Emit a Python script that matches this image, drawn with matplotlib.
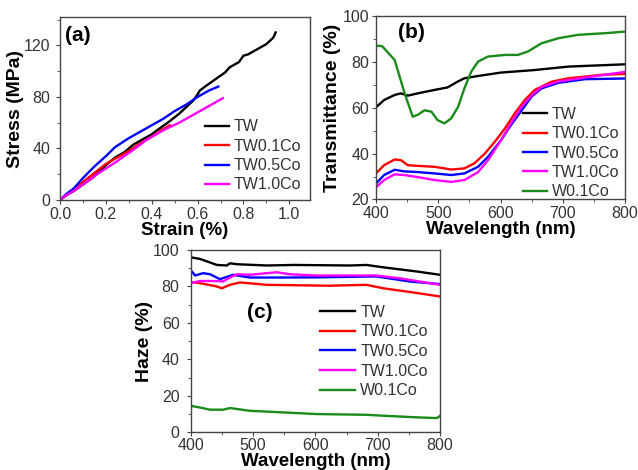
import matplotlib
matplotlib.use("Agg")
import matplotlib.pyplot as plt
from matplotlib.ticker import MultipleLocator, FormatStrFormatter

plt.rcParams['font.family'] = ['Liberation Sans', 'DejaVu Sans']

# ---------- Panel (a): stress-strain ----------
tw_strain = [0.0, 0.03, 0.06, 0.1, 0.14, 0.17, 0.2, 0.24, 0.28, 0.3, 0.32, 0.36, 0.4, 0.43, 0.47, 0.52, 0.55, 0.58, 0.6, 0.61, 0.64, 0.68, 0.72, 0.74, 0.78, 0.8, 0.82, 0.84, 0.87, 0.9, 0.93, 0.94]
tw_stress = [0.0, 4, 7, 12, 17, 22, 27, 33, 37, 40, 43, 47, 51, 55, 60, 67, 72, 77, 82, 85, 89, 94, 99, 103, 107, 112, 113, 115, 118, 121, 126, 130]
tw01_strain = [0.0, 0.03, 0.06, 0.1, 0.15, 0.2, 0.25, 0.3, 0.35, 0.4, 0.44, 0.48]
tw01_stress = [0.0, 4, 8, 14, 21, 28, 33, 38, 44, 49, 54, 58]
tw05_strain = [0.0, 0.03, 0.06, 0.1, 0.15, 0.2, 0.24, 0.3, 0.35, 0.4, 0.45, 0.5, 0.55, 0.6, 0.65, 0.69]
tw05_stress = [0.0, 5, 9, 17, 26, 34, 41, 48, 53, 58, 63, 69, 74, 80, 85, 88]
tw10_strain = [0.0, 0.03, 0.06, 0.1, 0.17, 0.24, 0.32, 0.38, 0.46, 0.52, 0.6, 0.66, 0.71]
tw10_stress = [0.0, 4, 7, 12, 21, 29, 39, 47, 55, 60, 68, 74, 79]

# ---------- Panel (b): transmittance ----------
wl_w01 = [400, 410, 430, 446, 459, 467, 478, 489, 499, 510, 521, 532, 542, 553, 564, 580, 607, 628, 644, 666, 693, 725, 768, 800]
t_w01 = [87.3, 87.0, 81.0, 66.4, 56.2, 57.0, 59.0, 58.4, 54.7, 53.3, 55.5, 60.6, 68.6, 75.9, 80.3, 82.5, 83.2, 83.2, 84.7, 88.3, 90.5, 92.0, 92.7, 93.4]
wl_tw = [400, 413, 430, 440, 451, 467, 494, 515, 531, 542, 564, 601, 655, 709, 800]
t_tw = [60.3, 63.5, 65.7, 66.4, 65.4, 66.4, 67.9, 69.0, 71.5, 73.0, 74.0, 75.5, 76.6, 78.1, 79.1]
wl_tw01 = [400, 413, 430, 440, 451, 467, 494, 521, 542, 558, 575, 591, 607, 623, 639, 655, 682, 709, 763, 800]
t_tw01 = [31.4, 35.0, 37.5, 37.2, 35.0, 34.7, 34.3, 33.1, 33.6, 35.8, 40.1, 45.3, 51.0, 57.7, 63.5, 67.9, 71.5, 73.0, 74.5, 74.9]
wl_tw05 = [400, 413, 430, 445, 467, 494, 521, 542, 564, 580, 601, 617, 634, 650, 666, 693, 736, 800]
t_tw05 = [27.0, 30.7, 33.0, 32.3, 32.0, 31.4, 30.7, 31.4, 34.3, 38.7, 46.0, 52.6, 59.0, 65.0, 68.6, 71.0, 72.6, 72.9]
wl_tw10 = [400, 413, 430, 445, 467, 494, 521, 542, 564, 580, 601, 617, 634, 650, 666, 693, 736, 800]
t_tw10 = [25.3, 28.5, 31.0, 30.7, 29.8, 28.5, 27.7, 28.5, 32.0, 37.2, 46.0, 53.3, 60.6, 65.5, 69.2, 71.6, 73.3, 75.8]

# ---------- Panel (c): haze ----------
wl_h_tw = [400, 415, 442, 458, 463, 474, 522, 565, 656, 682, 709, 763, 800]
h_tw = [96.0, 95.1, 91.8, 91.5, 92.7, 92.2, 91.5, 91.8, 91.5, 91.8, 90.5, 88.2, 86.4]
wl_h_tw01 = [400, 415, 442, 450, 463, 479, 522, 622, 682, 709, 763, 800]
h_tw01 = [82.4, 81.8, 80.0, 79.0, 80.9, 82.2, 80.9, 80.4, 80.9, 79.0, 76.4, 74.5]
wl_h_tw05 = [400, 407, 420, 431, 447, 468, 495, 549, 602, 698, 752, 800]
h_tw05 = [89.0, 86.0, 87.3, 86.7, 84.0, 86.4, 84.9, 84.9, 85.0, 85.5, 82.7, 81.3]
wl_h_tw10 = [400, 415, 442, 452, 463, 474, 495, 538, 559, 602, 698, 735, 800]
h_tw10 = [81.8, 83.0, 83.0, 82.7, 84.9, 86.7, 86.4, 87.8, 86.7, 86.0, 86.0, 84.5, 80.9]
wl_h_w01 = [400, 415, 431, 452, 463, 495, 549, 602, 682, 709, 763, 795, 800]
h_w01 = [14.5, 13.6, 12.4, 12.4, 13.3, 11.8, 10.9, 10.0, 9.6, 9.1, 8.2, 7.8, 9.0]

labels4 = ['TW', 'TW0.1Co', 'TW0.5Co', 'TW1.0Co']
labels5 = ['TW', 'TW0.1Co', 'TW0.5Co', 'TW1.0Co', 'W0.1Co']
colors = ['black', '#ff0000', '#0000ff', '#ff00ff', '#1a8a1a']

TICK_FS = 11.5
LAB_FS = 14
XLAB_FS = 13.5
LEG_FS = 11.5
PAN_FS = 15
TXT = '#333333'

fig = plt.figure(figsize=(6.38, 4.70), dpi=100)

def style(ax, ypad):
    for s in ax.spines.values():
        s.set_color('#444444')
        s.set_linewidth(1.0)
    ax.tick_params(which='both', direction='out', top=False, right=False,
                   colors='#444444', labelcolor=TXT, labelsize=TICK_FS, pad=2)
    ax.tick_params(axis='y', pad=ypad)
    ax.tick_params(which='major', length=3)
    ax.tick_params(which='minor', length=2)

lw = 1.7

# (a)
axa = fig.add_axes([60/638, 1-200/470, 250/638, 183/470])
style(axa, 4)
axa.plot(tw_strain, tw_stress, color=colors[0], lw=lw, label=labels4[0])
axa.plot(tw01_strain, tw01_stress, color=colors[1], lw=lw, label=labels4[1])
axa.plot(tw05_strain, tw05_stress, color=colors[2], lw=lw, label=labels4[2])
axa.plot(tw10_strain, tw10_stress, color=colors[3], lw=lw, label=labels4[3])
axa.set_xlim(0, 1.09)
axa.set_ylim(0, 142)
axa.xaxis.set_major_locator(MultipleLocator(0.2))
axa.xaxis.set_minor_locator(MultipleLocator(0.1))
axa.yaxis.set_major_locator(MultipleLocator(40))
axa.yaxis.set_minor_locator(MultipleLocator(20))
axa.xaxis.set_major_formatter(FormatStrFormatter('%.1f'))
axa.set_xlabel('Strain (%)', fontsize=XLAB_FS, fontweight='bold', labelpad=0)
axa.set_ylabel('Stress (MPa)', fontsize=LAB_FS, fontweight='bold', labelpad=0)
axa.text(0.02, 0.90, '(a)', transform=axa.transAxes, fontsize=PAN_FS,
         fontweight='bold', va='center', ha='left')
axa.legend(loc='upper left', bbox_to_anchor=(0.58, 0.44), frameon=False,
           fontsize=LEG_FS, handlelength=1.5, handletextpad=0.3,
           labelspacing=0.27, borderpad=0, borderaxespad=0, labelcolor=TXT)

# (b)
axb = fig.add_axes([376/638, 1-199.5/470, 249/638, 183/470])
style(axb, 2)
axb.plot(wl_tw, t_tw, color=colors[0], lw=lw, label=labels5[0])
axb.plot(wl_tw01, t_tw01, color=colors[1], lw=lw, label=labels5[1])
axb.plot(wl_tw05, t_tw05, color=colors[2], lw=lw, label=labels5[2])
axb.plot(wl_tw10, t_tw10, color=colors[3], lw=lw, label=labels5[3])
axb.plot(wl_w01, t_w01, color=colors[4], lw=lw, label=labels5[4])
axb.set_xlim(400, 800)
axb.set_ylim(20, 100)
axb.xaxis.set_major_locator(MultipleLocator(100))
axb.xaxis.set_minor_locator(MultipleLocator(50))
axb.yaxis.set_major_locator(MultipleLocator(20))
axb.yaxis.set_minor_locator(MultipleLocator(10))
axb.set_xlabel('Wavelength (nm)', fontsize=XLAB_FS, fontweight='bold', labelpad=0)
axb.set_ylabel('Transmittance (%)', fontsize=LAB_FS, fontweight='bold', labelpad=1)
axb.text(0.088, 0.91, '(b)', transform=axb.transAxes, fontsize=PAN_FS,
         fontweight='bold', va='center', ha='left')
axb.legend(loc='upper left', bbox_to_anchor=(0.59, 0.505), frameon=False,
           fontsize=LEG_FS, handlelength=1.5, handletextpad=0.3,
           labelspacing=0.27, borderpad=0, borderaxespad=0, labelcolor=TXT)

# (c)
axc = fig.add_axes([190.7/638, 1-432.3/470, 249.3/638, 182.3/470])
style(axc, 5)
axc.tick_params(axis='x', pad=1)
axc.plot(wl_h_tw, h_tw, color=colors[0], lw=lw, label=labels5[0])
axc.plot(wl_h_tw01, h_tw01, color=colors[1], lw=lw, label=labels5[1])
axc.plot(wl_h_tw05, h_tw05, color=colors[2], lw=lw, label=labels5[2])
axc.plot(wl_h_tw10, h_tw10, color=colors[3], lw=lw, label=labels5[3])
axc.plot(wl_h_w01, h_w01, color=colors[4], lw=lw, label=labels5[4])
axc.set_xlim(400, 800)
axc.set_ylim(0, 100)
axc.xaxis.set_major_locator(MultipleLocator(100))
axc.xaxis.set_minor_locator(MultipleLocator(50))
axc.yaxis.set_major_locator(MultipleLocator(20))
axc.yaxis.set_minor_locator(MultipleLocator(10))
axc.set_xlabel('Wavelength (nm)', fontsize=XLAB_FS, fontweight='bold', labelpad=0)
axc.set_ylabel('Haze (%)', fontsize=LAB_FS, fontweight='bold', labelpad=0)
axc.text(0.226, 0.656, '(c)', transform=axc.transAxes, fontsize=PAN_FS,
         fontweight='bold', va='center', ha='left')
axc.legend(loc='upper left', bbox_to_anchor=(0.52, 0.70), frameon=False,
           fontsize=LEG_FS, handlelength=2.2, handletextpad=0.3,
           labelspacing=0.29, borderpad=0, borderaxespad=0, labelcolor=TXT)

fig.savefig('out.png', dpi=100)
